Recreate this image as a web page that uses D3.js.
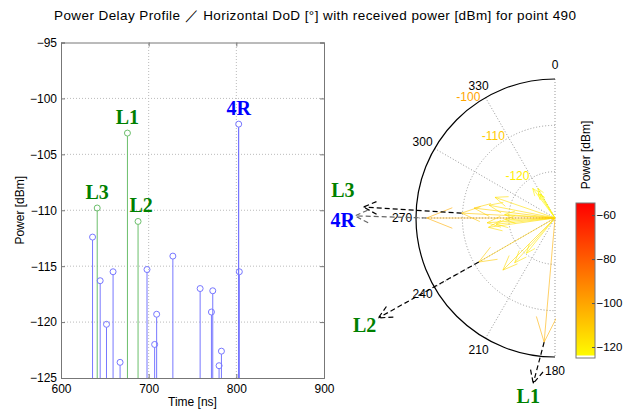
<!DOCTYPE html>
<html>
<head>
<meta charset="utf-8">
<script src="https://cdn.jsdelivr.net/npm/d3@7"></script>
<style>
body { margin: 0; background: #fff; }
svg { font-family: Arial, "Liberation Sans", sans-serif; }
</style>
</head>
<body>
<div class="chart"></div>
<script>
// paths for point 490: delay [ns], received power [dBm], horizontal DoD [deg]
var delays = [636, 641.3, 644.7, 651.9, 659.4, 667.4, 675.8, 687.9, 698.1, 706.8, 709.1, 727.6, 758.7, 771.6, 773.1, 780.3, 783, 802.7, 803.4];
var powers = [-112.4, -109.8, -116.3, -120.2, -115.5, -123.6, -103.1, -111.0, -115.3, -122.0, -119.3, -114.1, -117.0, -119.1, -117.2, -123.9, -122.6, -102.3, -115.5];
var dods   = [277, 273, 289, 219, 262, 326, 185, 240, 266, 323, 268, 225, 222, 274, 264, 328, 330, 270, 281];
var pathLabels = ["", "L3", "", "", "", "", "L1", "L2", "", "", "", "", "", "", "", "", "", "4R", ""];

var timeTicks = [600, 700, 800, 900];
var powerTicks = [-125, -120, -115, -110, -105, -100, -95];
var angleTicks = [0, 180, 210, 240, 270, 300, 330];
var ringTicks = [-120, -110, -100];
var cbarTicks = [-120, -100, -80, -60];

// where the labelled arrows point to outside the polar plot (angle, radius / R)
var labelArrows = {
    "L1": {angle: 187.5, ext: 1.2,  stroke: "#000", lx: -5, ly: 20, anchor: "middle"},
    "L2": {angle: 240.5, ext: 1.46, stroke: "#000", lx: -2, ly: 14, anchor: "end"},
    "L3": {angle: 273.3, ext: 1.38, stroke: "#000", lx: -9, ly: -10, anchor: "end"},
    "4R": {angle: 270.6, ext: 1.44, stroke: "#666", lx: 0, ly: 11, anchor: "end"}
};

var svg = d3.select(".chart")
            .append("svg")
            .attr("width", 623)
            .attr("height", 412);

var data = delays.map(function(d, i) {
    return {t: d, p: powers[i], dod: dods[i], label: pathLabels[i]};
});

function isLos(d) { return d.label.charAt(0) == "L"; }

// ---------- title
svg.append("text")
    .attr("x", 315)
    .attr("y", 20)
    .attr("text-anchor", "middle")
    .attr("textLength", 522)
    .style("font-size", "13.5px")
    .text("Power Delay Profile \uFF0F Horizontal DoD [\u00B0] with received power [dBm] for point 490");

// ---------- power delay profile
var x = d3.scaleLinear().domain([600, 900]).range([61, 324]);
var y = d3.scaleLinear().domain([-125, -95]).range([378, 42.5]);

var pdp = svg.append("g");

pdp.selectAll(".vgrid")
    .data(timeTicks.slice(1, -1))
  .enter()
    .append("line")
    .attr("x1", function(d) { return x(d); })
    .attr("x2", function(d) { return x(d); })
    .attr("y1", y(-125))
    .attr("y2", y(-95))
    .style("stroke", "#bbb")
    .style("stroke-dasharray", "1,2");

pdp.selectAll(".hgrid")
    .data(powerTicks.slice(1, -1))
  .enter()
    .append("line")
    .attr("x1", x(600))
    .attr("x2", x(900))
    .attr("y1", function(d) { return y(d); })
    .attr("y2", function(d) { return y(d); })
    .style("stroke", "#bbb")
    .style("stroke-dasharray", "1,2");

var xAxis = pdp.append("g")
    .attr("transform", "translate(0," + y(-125) + ")")
    .call(d3.axisBottom(x).tickValues(timeTicks).tickSize(-4).tickPadding(6));
var xTop = pdp.append("g")
    .attr("transform", "translate(0," + y(-95) + ")")
    .call(d3.axisTop(x).tickValues(timeTicks).tickSize(-4).tickFormat(""));
var yAxis = pdp.append("g")
    .attr("transform", "translate(" + x(600) + ",0)")
    .call(d3.axisLeft(y).tickValues(powerTicks).tickSize(-4).tickPadding(4));
var yRight = pdp.append("g")
    .attr("transform", "translate(" + x(900) + ",0)")
    .call(d3.axisRight(y).tickValues(powerTicks).tickSize(-4).tickFormat(""));

[xAxis, xTop, yAxis, yRight].forEach(function(a) {
    a.selectAll("path").style("stroke", "#777");
    a.selectAll("line").style("stroke", "#777");
    a.selectAll("text").style("font-size", "12px").style("fill", "#000");
});
yAxis.selectAll("text").text(function(d) { return d3.format("d")(d); });

pdp.append("text")
    .attr("x", (x(600) + x(900)) / 2)
    .attr("y", 406)
    .attr("text-anchor", "middle")
    .style("font-size", "12px")
    .text("Time [ns]");

pdp.append("text")
    .attr("transform", "translate(24," + (y(-110)) + ") rotate(-90)")
    .attr("text-anchor", "middle")
    .style("font-size", "12px")
    .text("Power [dBm]");

var stems = pdp.selectAll(".stem")
    .data(data)
  .enter()
    .append("g");

stems.append("line")
    .attr("x1", function(d) { return x(d.t); })
    .attr("x2", function(d) { return x(d.t); })
    .attr("y1", y(-125))
    .attr("y2", function(d) { return y(d.p) + 3; })
    .style("stroke", function(d) { return isLos(d) ? "#6cbf6c" : (d.label ? "#5555ff" : "#7777ff"); })
    .style("stroke-width", 1);

stems.append("circle")
    .attr("cx", function(d) { return x(d.t); })
    .attr("cy", function(d) { return y(d.p); })
    .attr("r", 3)
    .style("fill", "none")
    .style("stroke", function(d) { return isLos(d) ? "#6cbf6c" : "#7777ff"; });

stems.filter(function(d) { return d.label != ""; })
    .append("text")
    .attr("x", function(d) { return x(d.t) + (d.label == "L2" ? 3 : 0); })
    .attr("y", function(d) { return y(d.p) - 9; })
    .attr("text-anchor", "middle")
    .style("font-family", "'Liberation Serif', 'Times New Roman', serif")
    .style("font-weight", "bold")
    .style("font-size", "20px")
    .style("fill", function(d) { return isLos(d) ? "#008000" : "#0000ff"; })
    .text(function(d) { return d.label; });

// ---------- polar DoD plot
var cx = 555, cy = 218, R = 139;
var r = d3.scaleLinear().domain([-130, -100]).range([0, R]);
var color = d3.scaleLinear().domain([-125, -54.5]).range(["#ffff00", "#ff0000"]).clamp(true);

function px(a, rad) { return cx + rad * Math.sin(a * Math.PI / 180); }
function py(a, rad) { return cy - rad * Math.cos(a * Math.PI / 180); }

svg.append("clipPath")
    .attr("id", "half")
  .append("rect")
    .attr("x", 300)
    .attr("y", 0)
    .attr("width", cx + 1 - 300)
    .attr("height", 412);

var polar = svg.append("g");
var clipped = polar.append("g").attr("clip-path", "url(#half)");

clipped.selectAll(".ring")
    .data(ringTicks.slice(0, -1))
  .enter()
    .append("path")
    .attr("d", function(d) {
        return "M" + cx + "," + (cy - r(d)) + " A" + r(d) + "," + r(d) + " 0 0 0 " + cx + "," + (cy + r(d));
    })
    .style("fill", "none")
    .style("stroke", "#999")
    .style("stroke-dasharray", "1,2");

clipped.selectAll(".spoke")
    .data(angleTicks.filter(function(a) { return a > 180; }))
  .enter()
    .append("line")
    .attr("x1", cx)
    .attr("y1", cy)
    .attr("x2", function(d) { return px(d, R); })
    .attr("y2", function(d) { return py(d, R); })
    .style("stroke", "#999")
    .style("stroke-dasharray", "1,2");

clipped.append("line")
    .attr("x1", cx).attr("x2", cx)
    .attr("y1", cy - R).attr("y2", cy + R)
    .style("stroke", "#999")
    .style("stroke-dasharray", "1,2");

clipped.append("path")
    .attr("d", "M" + cx + "," + (cy - R) + " A" + R + "," + R + " 0 0 0 " + cx + "," + (cy + R))
    .style("fill", "none")
    .style("stroke", "#000")
    .style("stroke-width", 1.2);

polar.selectAll(".alabel")
    .data(angleTicks)
  .enter()
    .append("text")
    .attr("x", function(d) { return px(d, R * 1.1); })
    .attr("y", function(d) { return py(d, R * 1.1) + 4; })
    .attr("text-anchor", "middle")
    .style("font-size", "12px")
    .text(function(d) { return d; });

polar.selectAll(".rlabel")
    .data(ringTicks)
  .enter()
    .append("text")
    .attr("x", function(d) { return px(328, r(d)) - 1; })
    .attr("y", function(d) { return py(328, r(d)) + 1; })
    .attr("text-anchor", "end")
    .style("font-size", "12px")
    .style("fill", function(d) { return color(d); })
    .text(function(d) { return d; });

// compass arrows, one per path
function compass(a, len) {
    var ux = Math.sin(a * Math.PI / 180), uy = -Math.cos(a * Math.PI / 180);
    var nx = -uy, ny = ux;
    var tx = cx + len * ux, ty = cy + len * uy;
    var bx = cx + 0.8 * len * ux, by = cy + 0.8 * len * uy;
    return "M" + cx + "," + cy + " L" + tx + "," + ty +
        " M" + (bx + 0.08 * len * nx) + "," + (by + 0.08 * len * ny) + " L" + tx + "," + ty +
        " L" + (bx - 0.08 * len * nx) + "," + (by - 0.08 * len * ny);
}

clipped.selectAll(".quiver")
    .data(data)
  .enter()
    .append("path")
    .attr("d", function(d) { return compass(d.dod, r(d.p)); })
    .style("fill", "none")
    .style("stroke", function(d) { return color(d.p); })
    .style("stroke-opacity", 0.6)
    .style("stroke-width", 1);

// dashed arrows to the named paths
var named = data.filter(function(d) { return d.label != ""; });

var pointers = polar.selectAll(".pointer")
    .data(named)
  .enter()
    .append("g");

pointers.append("path")
    .attr("d", function(d) {
        var o = labelArrows[d.label];
        var x0 = px(d.dod, r(d.p)), y0 = py(d.dod, r(d.p));
        var x1 = px(o.angle, R * o.ext), y1 = py(o.angle, R * o.ext);
        var ang = Math.atan2(y0 - y1, x0 - x1), h = 15, w = 0.45;
        return "M" + x0 + "," + y0 + " L" + x1 + "," + y1 +
            " M" + (x1 + h * Math.cos(ang + w)) + "," + (y1 + h * Math.sin(ang + w)) +
            " L" + x1 + "," + y1 +
            " L" + (x1 + h * Math.cos(ang - w)) + "," + (y1 + h * Math.sin(ang - w));
    })
    .style("fill", "none")
    .style("stroke", function(d) { return labelArrows[d.label].stroke; })
    .style("stroke-dasharray", "5,3")
    .style("stroke-width", 1.2);

pointers.append("text")
    .attr("x", function(d) { var o = labelArrows[d.label]; return px(o.angle, R * o.ext) + o.lx; })
    .attr("y", function(d) { var o = labelArrows[d.label]; return py(o.angle, R * o.ext) + o.ly; })
    .attr("text-anchor", function(d) { return labelArrows[d.label].anchor; })
    .style("font-family", "'Liberation Serif', 'Times New Roman', serif")
    .style("font-weight", "bold")
    .style("font-size", "20px")
    .style("fill", function(d) { return isLos(d) ? "#008000" : "#0000ff"; })
    .text(function(d) { return d.label; });

// ---------- colour bar
var cb = svg.append("g");
var cy0 = 203, cy1 = 358;
var cScale = d3.scaleLinear().domain([-125, -54.5]).range([cy1, cy0]);

var grad = svg.append("defs").append("linearGradient")
    .attr("id", "cbgrad")
    .attr("x1", 0).attr("y1", 1).attr("x2", 0).attr("y2", 0);
grad.append("stop").attr("offset", "0%").attr("stop-color", color(-125));
grad.append("stop").attr("offset", "100%").attr("stop-color", color(-54.5));

cb.append("rect")
    .attr("x", 576)
    .attr("y", cy0)
    .attr("width", 19)
    .attr("height", cy1 - cy0)
    .style("fill", "url(#cbgrad)");

cb.append("rect")
    .attr("x", 576)
    .attr("y", cy1 - 2.5)
    .attr("width", 19)
    .attr("height", 2.5)
    .style("fill", "#fff");

cb.append("rect")
    .attr("x", 576)
    .attr("y", cy0)
    .attr("width", 19)
    .attr("height", cy1 - cy0)
    .style("fill", "none")
    .style("stroke", "#777");

var cbAxis = cb.append("g")
    .attr("transform", "translate(595,0)")
    .call(d3.axisRight(cScale).tickValues(cbarTicks).tickSize(-3).tickPadding(1.5));
cbAxis.select(".domain").remove();
cbAxis.selectAll("line").style("stroke", "#555");
cbAxis.selectAll("text").style("font-size", "11.5px");

cb.append("text")
    .attr("transform", "translate(590,155) rotate(-90)")
    .attr("text-anchor", "middle")
    .style("font-size", "12px")
    .text("Power [dBm]");
</script>
</body>
</html>
